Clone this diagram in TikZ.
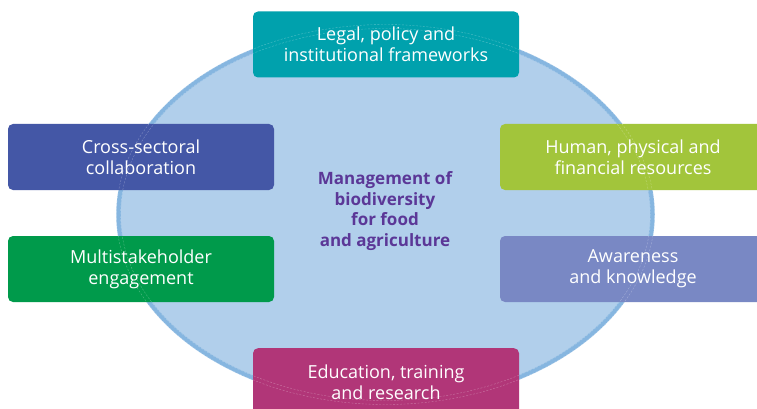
\documentclass[tikz,border=0pt]{standalone}
\usepackage{fontspec}
\setmainfont{Open Sans}
\definecolor{ellfill}{HTML}{B1CFEB}
\definecolor{ellline}{HTML}{86B6E0}
\definecolor{cteal}{HTML}{00A1AD}
\definecolor{cindigo}{HTML}{4457A6}
\definecolor{cgreen}{HTML}{009A4B}
\definecolor{clime}{HTML}{A2C53B}
\definecolor{cperi}{HTML}{7988C4}
\definecolor{cmag}{HTML}{B13678}
\definecolor{cpurple}{HTML}{5B3797}
\tikzset{
  box/.style={rounded corners=5pt, minimum width=266pt, minimum height=66pt,
    inner sep=0pt, align=center, text=white,
    font=\fontsize{18}{21}\selectfont},
  center/.style={align=center, text=cpurple,
    font=\bfseries\fontsize{17}{20.5}\selectfont}
}
\begin{document}
\begin{tikzpicture}[x=1pt,y=-1pt]
\useasboundingbox (0,0) rectangle (757,409);
\clip (0,0) rectangle (757,409);
\fill[white] (0,0) rectangle (757,409);
\draw[fill=ellfill, draw=ellline, line width=4.5pt] (385.5,214.5) ellipse [x radius=267, y radius=188];
\node[box, fill=cteal] (legal) at (386,44.5) {Legal, policy and\\institutional frameworks};
\node[box, fill=cindigo] (cross) at (141,157) {Cross-sectoral\\collaboration};
\node[box, fill=cgreen] (multi) at (141,269) {Multistakeholder\\engagement};
\node[box, fill=clime, minimum width=280pt] (human) at (640,157) {\hspace*{-14pt}Human, physical and\\\hspace*{-14pt}financial resources};
\node[box, fill=cperi, minimum width=280pt] (aware) at (640,269) {\hspace*{-14pt}Awareness\\\hspace*{-14pt}and knowledge};
\node[box, fill=cmag, minimum height=80pt, anchor=north] (edu) at (386,348) {};
\node[align=center, text=white, font=\fontsize{18}{21}\selectfont] (edutext) at (386,382) {Education, training\\and research};
\draw[white, opacity=0.3, dash pattern=on 2pt off 1.5pt, line width=0.4pt] (385.5,214.5) ellipse [x radius=265, y radius=186];
\draw[white, opacity=0.3, dash pattern=on 2pt off 1.5pt, line width=0.4pt] (385.5,214.5) ellipse [x radius=269, y radius=190];
\node[center] (mgmt) at (385,211) {Management of\\biodiversity\\for food\\and agriculture};
\end{tikzpicture}
\end{document}
